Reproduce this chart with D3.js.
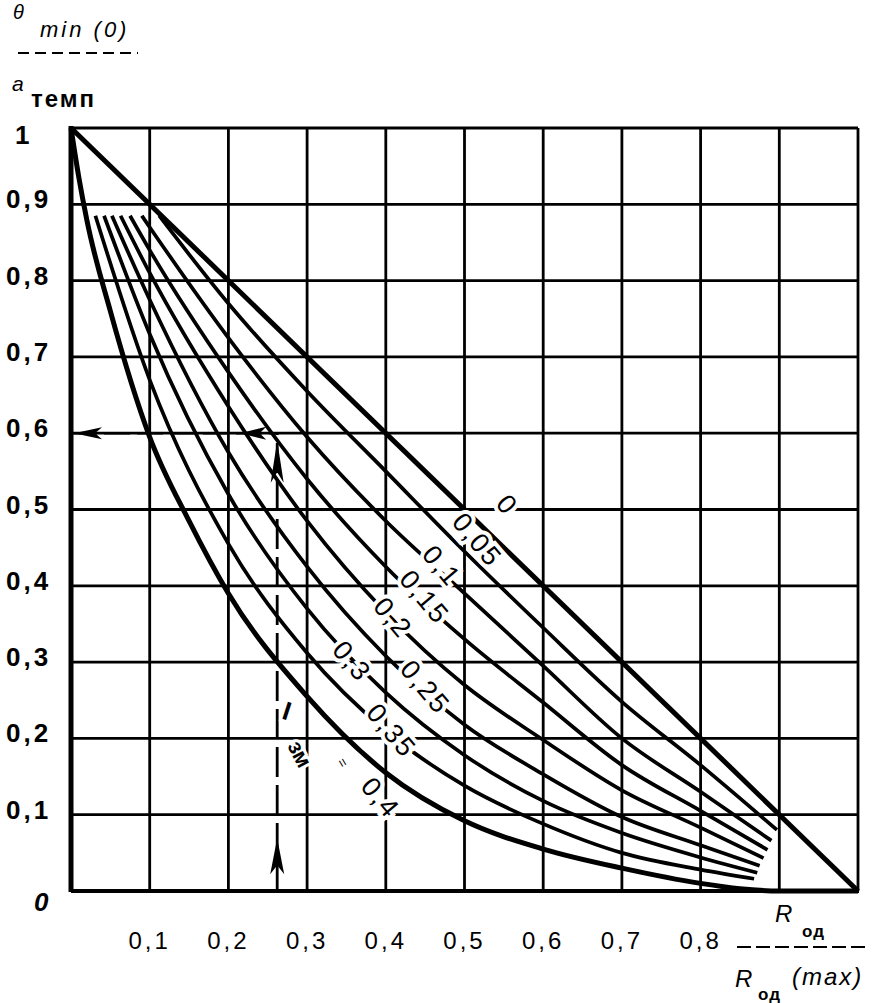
<!DOCTYPE html>
<html><head><meta charset="utf-8">
<script src="https://cdn.jsdelivr.net/npm/d3@7"></script>
<style>body{margin:0;background:#fff}svg{display:block}</style>
</head><body>
<script>
// ---- data ----
const xGridValues = [0.1,0.2,0.3,0.4,0.5,0.6,0.7,0.8,0.9,1.0];
const yGridValues = [0.1,0.2,0.3,0.4,0.5,0.6,0.7,0.8,0.9,1.0];
const xTickValues = [0.1,0.2,0.3,0.4,0.5,0.6,0.7,0.8];
const xTickLabels = ["0,1","0,2","0,3","0,4","0,5","0,6","0,7","0,8"];
const yTickValues = [0,0.1,0.2,0.3,0.4,0.5,0.6,0.7,0.8,0.9,1];
const yTickLabels = ["0","0,1","0,2","0,3","0,4","0,5","0,6","0,7","0,8","0,9","1"];

const curveNames = ["0","0,05","0,1","0,15","0,2","0,25","0,3","0,35","0,4"];
const x_0    = [0, 1];
const y_0    = [1, 0];
const x_005  = [0.112,0.2,0.3,0.4,0.5,0.6,0.7,0.8,0.897];
const y_005  = [0.885,0.77,0.655,0.55,0.445,0.345,0.248,0.165,0.08];
const x_010  = [0.09,0.1,0.2,0.3,0.4,0.5,0.6,0.7,0.8,0.89];
const y_010  = [0.885,0.87,0.725,0.595,0.485,0.39,0.295,0.2,0.13,0.066];
const x_015  = [0.075,0.1,0.2,0.3,0.4,0.5,0.6,0.7,0.8,0.885];
const y_015  = [0.885,0.84,0.68,0.54,0.425,0.33,0.247,0.165,0.105,0.054];
const x_020  = [0.063,0.1,0.2,0.3,0.4,0.5,0.6,0.7,0.8,0.88];
const y_020  = [0.885,0.81,0.635,0.485,0.365,0.27,0.198,0.132,0.083,0.043];
const x_025  = [0.052,0.1,0.2,0.3,0.4,0.5,0.6,0.7,0.8,0.875];
const y_025  = [0.885,0.775,0.575,0.425,0.308,0.218,0.153,0.097,0.06,0.033];
const x_030  = [0.042,0.1,0.2,0.3,0.4,0.5,0.6,0.7,0.8,0.872];
const y_030  = [0.885,0.73,0.52,0.37,0.26,0.178,0.118,0.076,0.044,0.024];
const x_035  = [0.031,0.1,0.2,0.3,0.4,0.5,0.6,0.7,0.8,0.868];
const y_035  = [0.885,0.67,0.455,0.312,0.21,0.138,0.088,0.05,0.028,0.016];
const x_040  = [0,0.01,0.02,0.05,0.1,0.15,0.2,0.3,0.4,0.5,0.6,0.7,0.8,0.85,0.9,1.0];
const y_040  = [1,0.935,0.88,0.76,0.595,0.485,0.39,0.255,0.155,0.092,0.055,0.03,0.01,0.003,0,0];

// label anchor positions in data units
const labelX = [0.554,0.516,0.471,0.449,0.409,0.45,0.357,0.407,0.393];
const labelY = [0.506,0.46,0.426,0.385,0.358,0.267,0.301,0.21,0.122];

// reading annotation (dashed lines with arrows)
const readX = 0.262;
const readY = 0.6;

// ---- drawing ----
const W = 885, H = 1003;
const svg = d3.select("body").append("svg").attr("width", W).attr("height", H);
const x = d3.scaleLinear().domain([0,1]).range([71,858]);
const y = d3.scaleLinear().domain([0,1]).range([891,128]);
const FONT = "'Liberation Sans', Arial, sans-serif";

// grid
svg.append("g").selectAll("line").data(xGridValues).join("line")
  .attr("x1", d=>x(d)).attr("x2", d=>x(d)).attr("y1", y(0)).attr("y2", y(1))
  .attr("stroke","#000").attr("stroke-width",2.8);
svg.append("g").selectAll("line").data(yGridValues).join("line")
  .attr("x1", x(0)).attr("x2", x(1)).attr("y1", d=>y(d)).attr("y2", d=>y(d))
  .attr("stroke","#000").attr("stroke-width",2.8);
// axes
svg.append("line").attr("x1",x(0)).attr("x2",x(0)).attr("y1",y(0)+1).attr("y2",y(1)-2)
  .attr("stroke","#000").attr("stroke-width",5);
svg.append("line").attr("x1",x(0)).attr("x2",x(1)+1).attr("y1",y(0)).attr("y2",y(0))
  .attr("stroke","#000").attr("stroke-width",3.8);

// curves
const series = [[x_0,y_0],[x_005,y_005],[x_010,y_010],[x_015,y_015],[x_020,y_020],
                [x_025,y_025],[x_030,y_030],[x_035,y_035],[x_040,y_040]];
const table = series.map((s,i)=>({name:curveNames[i], pts:s[0].map((v,j)=>[v,s[1][j]])}));
const line = d3.line().x(d=>x(d[0])).y(d=>y(d[1])).curve(d3.curveMonotoneX);
svg.append("g").selectAll("path").data(table).join("path")
  .attr("d", d=>line(d.pts))
  .attr("fill","none").attr("stroke","#000")
  .attr("stroke-width",(d,i)=> (i===0||i===8) ? 5 : 3.7)
  .attr("stroke-linecap","butt");

// reading lines
svg.append("line").attr("x1",x(0)).attr("x2",x(readX)).attr("y1",y(readY)).attr("y2",y(readY))
  .attr("stroke","#000").attr("stroke-width",2.6).attr("stroke-dasharray","26,7");
svg.append("line").attr("x1",x(readX)).attr("x2",x(readX)).attr("y1",y(0)).attr("y2",y(readY))
  .attr("stroke","#000").attr("stroke-width",2.8).attr("stroke-dasharray","30,8");
function arrow(tx,ty,dir,len,wid){
  let p;
  if(dir==='left') p=[[tx,ty],[tx+len,ty-wid/2],[tx+len*0.75,ty],[tx+len,ty+wid/2]];
  else p=[[tx,ty],[tx+wid/2,ty+len],[tx,ty+len*0.75],[tx-wid/2,ty+len]];
  svg.append("path").attr("d","M"+p.map(q=>q.join(",")).join("L")+"Z").attr("fill","#000");
}
arrow(x(0)+3, y(readY), 'left', 28, 12);
arrow(x(0.215), y(readY), 'left', 26, 13);
arrow(x(readX), y(0.59), 'up', 42, 13);
arrow(x(readX), y(0.069), 'up', 36, 14);

// curve labels
const lab = svg.append("g").attr("font-family",FONT).attr("font-size",27).attr("fill","#000");
lab.selectAll("text").data(curveNames).join("text")
  .attr("transform",(d,i)=>`translate(${x(labelX[i])},${y(labelY[i])}) rotate(50)`)
  .attr("text-anchor","middle").attr("dominant-baseline","central")
  .attr("stroke","#fff").attr("stroke-width",8).attr("paint-order","stroke")
  .attr("letter-spacing",2)
  .text(d=>d);

// Iзм annotation
const ann = svg.append("g").attr("font-family",FONT).attr("fill","#000");
ann.append("text").attr("transform",`translate(${x(readX)+7},${y(0.225)}) rotate(18)`)
  .attr("font-size",26).attr("font-weight","bold").attr("text-anchor","middle")
  .attr("stroke","#fff").attr("stroke-width",6).attr("paint-order","stroke").text("I");
ann.append("text").attr("transform",`translate(${x(readX)+16},${y(0.175)}) rotate(62)`)
  .attr("font-size",22).attr("font-weight","bold").attr("text-anchor","middle")
  .attr("stroke","#fff").attr("stroke-width",6).attr("paint-order","stroke").text("зм");
ann.append("text").attr("transform",`translate(${x(0.34)},${y(0.165)}) rotate(60)`)
  .attr("font-size",14).attr("text-anchor","middle").text("=");

// tick labels
const tk = svg.append("g").attr("font-family",FONT).attr("fill","#000");
tk.selectAll("text.x").data(xTickValues).join("text").attr("class","x")
  .attr("x",d=>x(d)).attr("y",949).attr("text-anchor","middle")
  .attr("font-size",24).attr("letter-spacing",3).text((d,i)=>xTickLabels[i]);
tk.selectAll("text.y").data(yTickValues).join("text").attr("class","y")
  .attr("x",(d)=> d===1 ? 15 : (d===0 ? 34 : 6))
  .attr("y",d=> d===1 ? y(d)+16 : (d===0 ? y(d)+20 : y(d)+4))
  .attr("font-size",26).attr("font-weight","bold").attr("letter-spacing",3)
  .attr("font-style",d=>d===0?"italic":"normal")
  .text((d,i)=>yTickLabels[i]);

// y-axis title
const yt = svg.append("g").attr("font-family",FONT).attr("fill","#000");
yt.append("text").attr("x",13).attr("y",19).attr("font-size",20).attr("font-style","italic").text("θ");
yt.append("text").attr("x",40).attr("y",37).attr("font-size",22).attr("font-style","italic").attr("letter-spacing",3).text("min (0)");
yt.append("line").attr("x1",18).attr("x2",138).attr("y1",53).attr("y2",53)
  .attr("stroke","#000").attr("stroke-width",2).attr("stroke-dasharray","11,6");
yt.append("text").attr("x",12).attr("y",91).attr("font-size",21).attr("font-style","italic").text("а");
yt.append("text").attr("x",31).attr("y",107).attr("font-size",24).attr("font-weight","bold").attr("letter-spacing",2).text("темп");

// x-axis title
const xt = svg.append("g").attr("font-family",FONT).attr("fill","#000");
xt.append("text").attr("x",775).attr("y",922).attr("font-size",24).attr("font-style","italic").text("R");
xt.append("text").attr("x",802).attr("y",937).attr("font-size",17).attr("font-weight","bold").attr("letter-spacing",1).text("од");
xt.append("line").attr("x1",737).attr("x2",867).attr("y1",947).attr("y2",947)
  .attr("stroke","#000").attr("stroke-width",2).attr("stroke-dasharray","14,5");
xt.append("text").attr("x",735).attr("y",987).attr("font-size",24).attr("font-style","italic").text("R");
xt.append("text").attr("x",758).attr("y",1000).attr("font-size",17).attr("font-weight","bold").attr("letter-spacing",1).text("од");
xt.append("text").attr("x",792).attr("y",985).attr("font-size",24).attr("font-style","italic").attr("letter-spacing",2).text("(max)");
</script>
</body></html>
